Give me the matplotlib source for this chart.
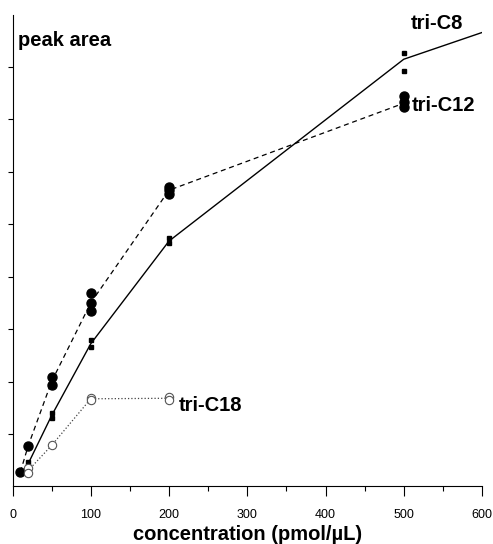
import numpy as np
import matplotlib
matplotlib.use('Agg')
import matplotlib.pyplot as plt
from matplotlib.ticker import MultipleLocator

plt.rcParams['font.family'] = ['Liberation Sans', 'DejaVu Sans']

# line (mean) values
c8_x = [20, 50, 100, 200, 500, 600]
c8_y = [0.43, 1.35, 2.72, 4.68, 8.15, 8.66]
c12_x = [10, 20, 50, 100, 200, 500]
c12_y = [0.27, 0.77, 2.0, 3.5, 5.65, 7.31]
c18_x = [20, 50, 100, 200]
c18_y = [0.30, 0.78, 1.67, 1.68]

# replicate points
c8_px = [20, 20, 50, 50, 100, 100, 200, 200, 500, 500]
c8_py = [0.47, 0.39, 1.40, 1.30, 2.79, 2.66, 4.73, 4.64, 8.26, 7.93]
c12_px = [10, 20, 50, 50, 100, 100, 100, 200, 200, 200, 500, 500, 500]
c12_py = [0.27, 0.77, 2.08, 1.93, 3.68, 3.50, 3.35, 5.72, 5.65, 5.58, 7.44, 7.34, 7.24]
c18_px = [20, 20, 50, 100, 100, 200, 200]
c18_py = [0.34, 0.25, 0.78, 1.69, 1.65, 1.71, 1.65]

fig = plt.figure(figsize=(4.93, 5.44), dpi=100)
ax = fig.add_axes([12.5 / 493, 57.7 / 544, 469.5 / 493, 471.6 / 544])

ax.plot(c8_x, c8_y, '-', color='black', lw=1.0)
ax.plot(c12_x, c12_y, '--', color='black', lw=0.9, dashes=(4, 3))
ax.plot(c18_x, c18_y, ':', color='#444444', lw=0.9)

ax.plot(c12_px, c12_py, 'o', color='black', ms=6.5, ls='none')
ax.plot(c8_px, c8_py, 's', color='black', ms=3.2, ls='none')
ax.plot(c18_px, c18_py, 'o', mfc='white', mec='#555555', mew=0.8, ms=6, ls='none')

ax.set_xlim(0, 600)
ax.set_ylim(0, 9)
ax.spines['top'].set_visible(False)
ax.spines['right'].set_visible(False)
ax.xaxis.set_major_locator(MultipleLocator(100))
ax.xaxis.set_minor_locator(MultipleLocator(50))
ax.set_yticks(np.arange(1, 9))
ax.set_yticklabels([])
ax.tick_params(axis='x', which='major', length=7, width=0.8, labelsize=9, pad=9.5)
ax.tick_params(axis='x', which='minor', length=3.7, width=0.8)
ax.tick_params(axis='y', length=3.5, width=0.8)

ax.set_xlabel('concentration (pmol/µL)', fontsize=14.5, fontweight='bold', labelpad=2.5)

ax.text(0.011, 0.945, 'peak area', transform=ax.transAxes, fontsize=14.5,
        fontweight='bold', va='center', ha='left')
ax.text(542, 8.84, 'tri-C8', fontsize=14.5, fontweight='bold', va='center', ha='center')
ax.text(510, 7.27, 'tri-C12', fontsize=14.5, fontweight='bold', va='center', ha='left')
ax.text(212, 1.55, 'tri-C18', fontsize=14.5, fontweight='bold', va='center', ha='left')

fig.savefig('out.png', dpi=100)
